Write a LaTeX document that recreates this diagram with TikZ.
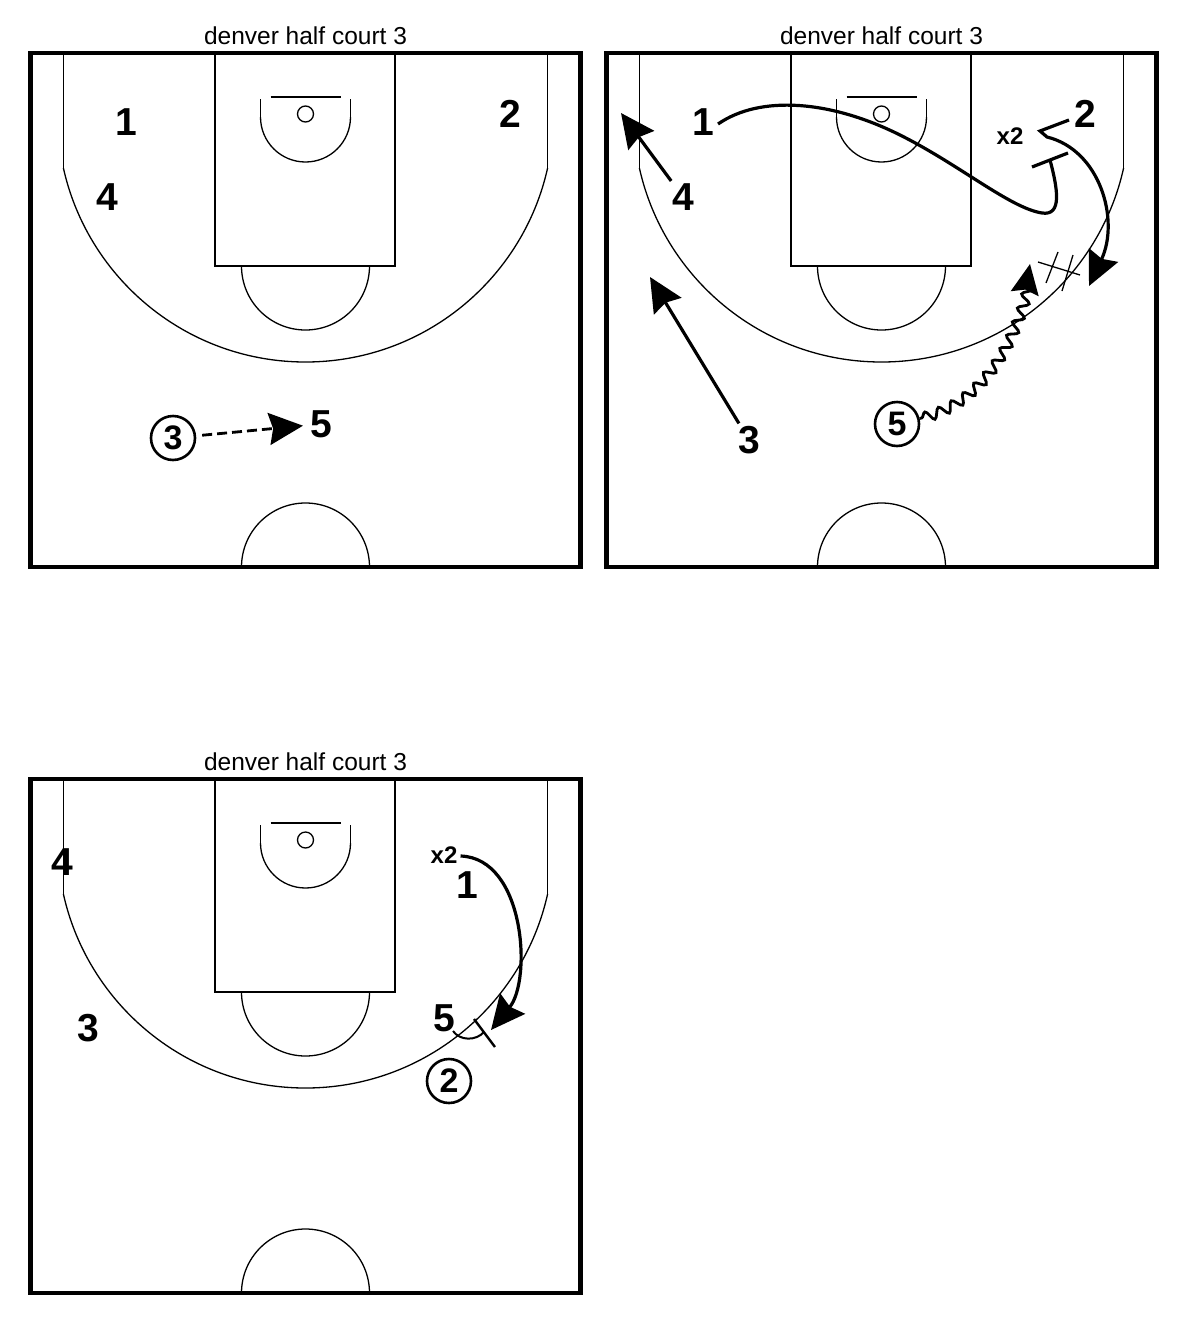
\documentclass[tikz,border=0pt]{standalone}
\usepackage{fontspec}
\setmainfont{Liberation Sans}
\usetikzlibrary{arrows.meta,decorations.pathmorphing}
\begin{document}
\begin{tikzpicture}[x=1pt,y=-1pt,
  courtln/.style={line width=1.3pt},
  outerln/.style={line width=4.5pt},
  titletext/.style={inner sep=0pt,font=\fontsize{24.5}{24.5}\selectfont},
  plyr/.style={inner sep=0pt,font=\bfseries\fontsize{39}{39}\selectfont},
  smallp/.style={inner sep=0pt,font=\bfseries\fontsize{24}{24}\selectfont},
  ballp/.style={circle,draw,line width=2.6pt,minimum size=44pt,inner sep=0pt,font=\bfseries\fontsize{34}{34}\selectfont},
  tip/.style={-{Stealth[length=34pt,width=32pt,inset=4pt]}},
  moveln/.style={line width=3.2pt,tip},
  passln/.style={line width=2.8pt,dash pattern=on 10pt off 5pt,tip},
  screenln/.style={line width=3.2pt},
  dribble/.style={line width=2.8pt,decorate,decoration={snake,segment length=15pt,amplitude=5pt,pre length=2pt,post length=4pt},-{Stealth[length=30pt,width=28pt,inset=4pt]}},
  markln/.style={line width=1.3pt}
]
\useasboundingbox (0,0) rectangle (1200,1344);
\fill[white] (0,0) rectangle (1200,1344);
\foreach \ox/\oy/\n in {30.5/53/a,606.5/53/b,30.5/779/c}{
 \begin{scope}[shift={(\ox,\oy)}]
  \node[titletext] (title\n) at (275,-17) {denver half court 3};
  \draw[courtln] (184.5,0) rectangle (364.5,213);
  \draw[courtln] (33,0) -- (33,116) (517,0) -- (517,116);
  \begin{scope}\clip (0,115.5) rectangle (550,514); \draw[courtln] (275,61) circle[radius=248pt]; \end{scope}
  \begin{scope}\clip (0,213) rectangle (550,514); \draw[courtln] (275,213) circle[radius=64pt]; \end{scope}
  \begin{scope}\clip (0,64) rectangle (550,514); \draw[courtln] (275,64) circle[radius=45pt]; \end{scope}
  \draw[courtln] (230,46) -- (230,64) (320,46) -- (320,64);
  \draw[courtln] (240,44) -- (310,44);
  \draw[courtln] (275,61) circle[radius=8pt];
  \begin{scope}\clip (0,0) rectangle (550,514); \draw[courtln] (275,514) circle[radius=64pt]; \end{scope}
  \draw[outerln] (0,0) rectangle (550,514);
 \end{scope}
}
% ---------- court 1
\node[plyr] (a1) at (126,122) {1};
\node[plyr] (a4) at (107,197) {4};
\node[plyr] (a2) at (510,114) {2};
\node[ballp] (a3) at (173,438) {3};
\node[plyr] (a5) at (321,424) {5};
\draw[passln,shorten <=6pt,shorten >=7pt] (a3) -- (a5);
% ---------- court 2
\node[plyr] (b1) at (703,122) {1};
\node[plyr] (b2) at (1085,114) {2};
\node[smallp] (bx2) at (1010,136) {x2};
\node[plyr] (b4) at (683,197) {4};
\node[plyr] (b3) at (749,440) {3};
\node[ballp] (b5) at (897,424) {5};
\coordinate (bt4) at (621,113);
\coordinate (bt3) at (650,277);
\coordinate (bscr) at (1050,160);
\coordinate (bs2) at (1069,120);
\coordinate (bt2) at (1089,286);
\coordinate (bt5) at (1030,264);
\draw[moveln,shorten <=3pt] (b4) -- (bt4);
\draw[moveln,shorten <=3pt] (b3) -- (bt3);
\draw[screenln] ([xshift=4pt,yshift=-2pt]b1.east) .. controls (760,95) and (830,100) .. (900,135)
   .. controls (960,165) and (1010,208) .. (1042,213) .. controls (1062,216) and (1058,190) .. (bscr);
\draw[screenln] (bscr) ++(-18,7) -- ++(36,-14);
\draw[moveln] (bs2) -- (1040,131) -- (1047,137) .. controls (1100,150) and (1120,220) .. (bt2);
\draw[dribble] (b5) .. controls (975,405) and (1015,350) .. (bt5);
\draw[markln] (1038,262) -- (1080,275);
\draw[markln] (1058,252) -- (1046,283);
\draw[markln] (1073,255) -- (1062,291);
% ---------- court 3
\node[plyr] (c4) at (62,862) {4};
\node[plyr] (c3) at (88,1028) {3};
\node[smallp] (cx2) at (444,855) {x2};
\node[plyr] (c1) at (467,885) {1};
\node[plyr] (c5) at (444,1018) {5};
\node[ballp] (c2) at (449,1081) {2};
\coordinate (ct1) at (491,1030);
\draw[moveln] ([xshift=3pt,yshift=-1pt]cx2.east) .. controls (525,858) and (532,980) .. (ct1);
\coordinate (cscr) at (484,1032);
\draw[line width=2pt] (453,1031) .. controls (460,1041) and (476,1041) .. (cscr);
\draw[line width=2.4pt] (cscr) ++(-10,-13) -- ++(21,28);
\end{tikzpicture}
\end{document}
